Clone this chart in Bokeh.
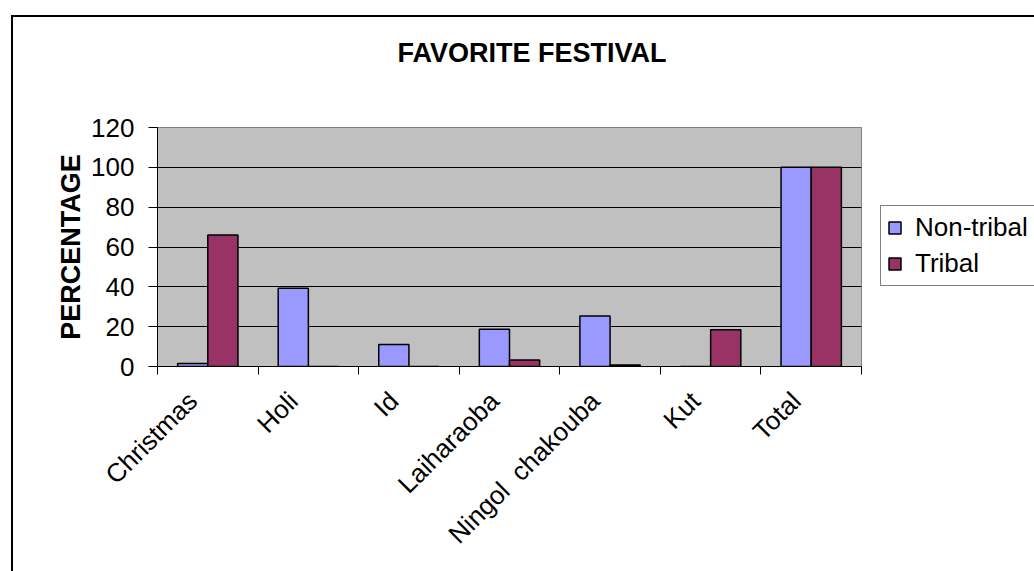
import numpy as np
from math import pi

from bokeh.plotting import figure
from bokeh.models import (ColumnDataSource, FixedTicker, Legend, LegendItem,
                          Title, Range1d)
from bokeh.transform import dodge
from bokeh.embed import file_html
from bokeh.resources import INLINE

# --- data -------------------------------------------------------------
title_text = "FAVORITE FESTIVAL"
y_label = "PERCENTAGE"
categories = ["Christmas", "Holi", "Id", "Laiharaoba", "Ningol\u00a0 chakouba", "Kut", "Total"]
series_names = ["Non-tribal", "Tribal"]
non_tribal = [1.5, 39.3, 11.0, 18.7, 25.3, 0.0, 100.0]
tribal = [66.0, 0.0, 0.0, 3.3, 0.7, 18.5, 100.0]
y_ticks = [0, 20, 40, 60, 80, 100, 120]

# --- styling ----------------------------------------------------------
FONT = "Liberation Sans"
NT_COLOR = "#9999FF"
T_COLOR = "#993366"
PLOT_BG = "#C0C0C0"

centers = np.arange(len(categories)) + 0.5
label_pos = list(centers - 0.15)          # rotated labels end a little left of centre
boundaries = list(range(len(categories) + 1))
src = ColumnDataSource(dict(x=centers, nt=non_tribal, t=tribal))

p = figure(
    frame_width=704, frame_height=239,
    x_range=Range1d(0, len(categories)),
    y_range=Range1d(y_ticks[0], y_ticks[-1]),
    output_backend="svg", toolbar_location=None,
    min_border_left=144, min_border_right=173,
    min_border_top=110, min_border_bottom=205,
    styles={"position": "absolute", "left": "11px", "top": "15px",
            "border-left": "2px solid black", "border-top": "2px solid black"},
)
p.background_fill_color = PLOT_BG
p.border_fill_color = "white"
p.outline_line_color = "#808080"
p.outline_line_width = 1

r_nt = p.vbar(x=dodge("x", -0.15), top="nt", width=0.3, source=src,
              fill_color=NT_COLOR, line_color="black", line_width=1.5)
r_t = p.vbar(x=dodge("x", 0.15), top="t", width=0.3, source=src,
             fill_color=T_COLOR, line_color="black", line_width=1.5)

# y axis
p.yaxis.ticker = FixedTicker(ticks=y_ticks)
p.yaxis.major_tick_out = 9
p.yaxis.major_tick_in = 0
p.yaxis.minor_tick_line_color = None
p.yaxis.major_tick_line_color = "black"
p.yaxis.axis_line_color = "black"
p.yaxis.major_label_text_font = FONT
p.yaxis.major_label_text_font_size = "26px"
p.yaxis.major_label_text_color = "black"
p.yaxis.major_label_standoff = 14
p.yaxis.axis_label = y_label
p.yaxis.axis_label_text_font = FONT
p.yaxis.axis_label_text_font_style = "bold"
p.yaxis.axis_label_text_font_size = "27px"
p.yaxis.axis_label_text_color = "black"
p.yaxis.axis_label_standoff = 2

# x axis: labels near category centres, ticks at category boundaries
p.xaxis.ticker = FixedTicker(ticks=label_pos, minor_ticks=boundaries)
p.xaxis.major_label_overrides = {c: name for c, name in zip(label_pos, categories)}
p.xaxis.major_tick_out = 0
p.xaxis.major_tick_in = 0
p.xaxis.major_tick_line_color = None
p.xaxis.minor_tick_out = 8
p.xaxis.minor_tick_in = 0
p.xaxis.minor_tick_line_color = "black"
p.xaxis.axis_line_color = "black"
p.xaxis.major_label_orientation = pi / 4
p.xaxis.major_label_text_font = FONT
p.xaxis.major_label_text_font_size = "26px"
p.xaxis.major_label_text_color = "black"
p.xaxis.major_label_standoff = 22

p.xgrid.visible = False
p.ygrid.ticker = FixedTicker(ticks=y_ticks[1:-1])
p.ygrid.grid_line_color = "black"
p.ygrid.grid_line_width = 1

# gap between plot area and title, then the title itself
p.add_layout(Title(text=" ", text_font_size="1px", standoff=57), "above")
p.add_layout(Title(text=title_text, align="left", offset=240, standoff=0,
                   vertical_align="bottom",
                   text_font=FONT, text_font_style="bold", text_font_size="27px",
                   text_color="black"), "above")

legend = Legend(
    items=[LegendItem(label=series_names[0], renderers=[r_nt]),
           LegendItem(label=series_names[1], renderers=[r_t])],
    location=(19, 80),
    border_line_color="black", border_line_width=1,
    background_fill_color="white", background_fill_alpha=1,
    label_text_font=FONT, label_text_font_size="26px", label_text_color="black",
    glyph_width=15, glyph_height=15, label_standoff=13,
    padding=6, spacing=5, margin=0,
)
p.add_layout(legend, "right")

open("out.html", "w").write(file_html(p, INLINE))
